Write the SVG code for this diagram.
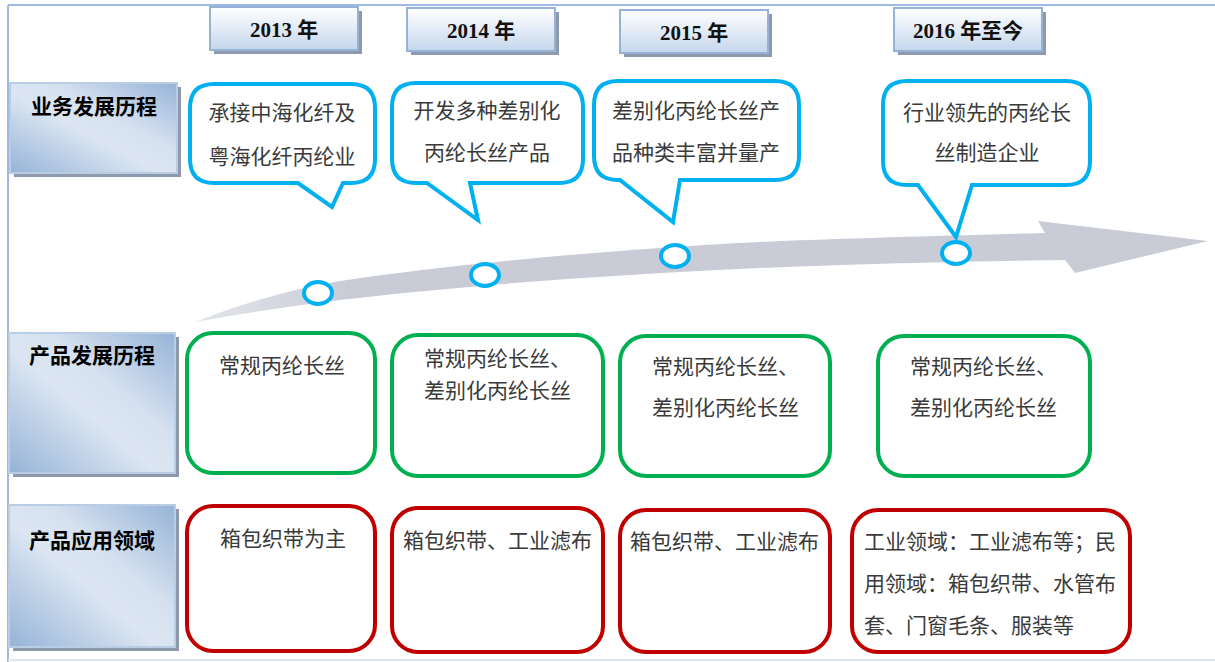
<svg xmlns="http://www.w3.org/2000/svg" width="1215" height="662" viewBox="0 0 1215 662">
<defs>
<linearGradient id="lbl" x1="0" y1="1" x2="1" y2="0">
<stop offset="0" stop-color="#95B3D7"/>
<stop offset="0.45" stop-color="#DCE6F2"/>
<stop offset="0.62" stop-color="#D6E1F0"/>
<stop offset="1" stop-color="#95B3D7"/>
</linearGradient>
<linearGradient id="yr" x1="0" y1="0" x2="0" y2="1">
<stop offset="0" stop-color="#FFFFFF"/>
<stop offset="1" stop-color="#C5D6EC"/>
</linearGradient>
<linearGradient id="arr" x1="195" y1="0" x2="1208" y2="0" gradientUnits="userSpaceOnUse">
<stop offset="0" stop-color="#E4E6EC"/>
<stop offset="0.15" stop-color="#C9CCD7"/>
<stop offset="1" stop-color="#C9CCD7"/>
</linearGradient>
</defs>
<style>
.frame{stroke:#9DB9E4;stroke-width:2;fill:none}
.yrbox{fill:url(#yr);stroke:#95B3D7;stroke-width:2}
.lblbox{fill:url(#lbl);stroke:#B9CDE5;stroke-width:2}
.shadow{fill:#8E9AAB}
.yrtxt{font-family:"Liberation Serif","Noto Sans CJK SC",serif;font-weight:bold;font-size:21px;fill:#111;text-anchor:middle}
.lbltxt{font-family:"Noto Sans CJK SC",sans-serif;font-weight:bold;font-size:21px;fill:#000;text-anchor:middle}
.bub{fill:#fff;stroke:#00B0F0;stroke-width:4;stroke-linejoin:miter}
.green{fill:#fff;stroke:#00B050;stroke-width:4}
.red{fill:#fff;stroke:#C00000;stroke-width:4}
.t{font-family:"Liberation Serif","Noto Sans CJK SC",sans-serif;font-size:21px;fill:#3A3A3A}
.c{text-anchor:middle}
.dot{fill:#fff;stroke:#00B0F0;stroke-width:4}
</style>
<g id="frame">
<line class="frame" x1="8" y1="5" x2="1215" y2="5"/>
<line class="frame" x1="8" y1="5" x2="8" y2="662"/>
<line x1="8" y1="660" x2="1215" y2="660" stroke="#DCE6F2" stroke-width="2"/>
</g>
<g id="connectors">
<path fill="url(#arr)" d="M 195,322 C 250,300 300,288 340,281 C 450,265 600,250 760,242 C 880,237 980,235 1045,233 L 1038,221 L 1208,241 L 1075,273 L 1065,260 C 980,261 880,263 760,268 C 600,275 450,287 340,300 C 290,306 240,314 195,322 Z"/>
</g>
<g id="year-2013">
<rect class="shadow" x="214" y="11" width="148" height="43"/>
<rect class="yrbox" x="210" y="7" width="148" height="43"/>
<text class="yrtxt" x="284" y="37">2013 年</text>
</g>
<g id="year-2014">
<rect class="shadow" x="411" y="12" width="148" height="43"/>
<rect class="yrbox" x="407" y="8" width="148" height="43"/>
<text class="yrtxt" x="481" y="38">2014 年</text>
</g>
<g id="year-2015">
<rect class="shadow" x="624" y="14" width="148" height="43"/>
<rect class="yrbox" x="620" y="10" width="148" height="43"/>
<text class="yrtxt" x="694" y="40">2015 年</text>
</g>
<g id="year-2016">
<rect class="shadow" x="898" y="12" width="148" height="43"/>
<rect class="yrbox" x="894" y="8" width="148" height="43"/>
<text class="yrtxt" x="968" y="38">2016 年至今</text>
</g>
<g id="label-business">
<rect class="shadow" x="14" y="87" width="167" height="90"/>
<rect class="lblbox" x="10" y="83" width="167" height="90"/>
<text class="lbltxt" x="94" y="114">业务发展历程</text>
</g>
<g id="label-product">
<rect class="shadow" x="13" y="337" width="166" height="140"/>
<rect class="lblbox" x="9" y="333" width="166" height="140"/>
<text class="lbltxt" x="92" y="363">产品发展历程</text>
</g>
<g id="label-application">
<rect class="shadow" x="13" y="509" width="166" height="142"/>
<rect class="lblbox" x="9" y="505" width="166" height="142"/>
<text class="lbltxt" x="92" y="548">产品应用领域</text>
</g>
<g id="bubble-2013">
<path class="bub" d="M 214,84 H 351 Q 375,84 375,108 V 159 Q 375,183 351,183 H 343 L 332,207 L 298,183 H 214 Q 190,183 190,159 V 108 Q 190,84 214,84 Z"/>
<text class="t c" x="282" y="120">承接中海化纤及</text>
<text class="t c" x="282" y="164">粤海化纤丙纶业</text>
</g>
<g id="bubble-2014">
<path class="bub" d="M 416,83 H 559 Q 583,83 583,107 V 159 Q 583,183 559,183 H 470 L 478,220 L 427,183 H 416 Q 392,183 392,159 V 107 Q 392,83 416,83 Z"/>
<text class="t c" x="487" y="118">开发多种差别化</text>
<text class="t c" x="487" y="160">丙纶长丝产品</text>
</g>
<g id="bubble-2015">
<path class="bub" d="M 618,81 H 775 Q 799,81 799,105 V 156 Q 799,180 775,180 H 680 L 673,222 L 620,180 H 618 Q 594,180 594,156 V 105 Q 594,81 618,81 Z"/>
<text class="t c" x="696" y="118">差别化丙纶长丝产</text>
<text class="t c" x="696" y="160">品种类丰富并量产</text>
</g>
<g id="bubble-2016">
<path class="bub" d="M 907,81 H 1066 Q 1090,81 1090,105 V 161 Q 1090,185 1066,185 H 972 L 956,237 L 918,185 H 907 Q 883,185 883,161 V 105 Q 883,81 907,81 Z"/>
<text class="t c" x="987" y="120">行业领先的丙纶长</text>
<text class="t c" x="987" y="160">丝制造企业</text>
</g>
<g id="dot-2013"><ellipse class="dot" cx="318" cy="293" rx="14" ry="11"/></g>
<g id="dot-2014"><ellipse class="dot" cx="485" cy="275" rx="14" ry="11"/></g>
<g id="dot-2015"><ellipse class="dot" cx="675" cy="256" rx="14" ry="11"/></g>
<g id="dot-2016"><ellipse class="dot" cx="956" cy="253" rx="14" ry="11"/></g>
<g id="product-2013">
<rect class="green" x="187" y="333" width="188" height="140" rx="26"/>
<text class="t c" x="282" y="373">常规丙纶长丝</text>
</g>
<g id="product-2014">
<rect class="green" x="392" y="335" width="211" height="141" rx="26"/>
<text class="t" x="424" y="366">常规丙纶长丝、</text>
<text class="t" x="424" y="398">差别化丙纶长丝</text>
</g>
<g id="product-2015">
<rect class="green" x="620" y="336" width="210" height="140" rx="26"/>
<text class="t" x="652" y="374">常规丙纶长丝、</text>
<text class="t" x="652" y="415">差别化丙纶长丝</text>
</g>
<g id="product-2016">
<rect class="green" x="878" y="336" width="212" height="140" rx="26"/>
<text class="t" x="910" y="374">常规丙纶长丝、</text>
<text class="t" x="910" y="415">差别化丙纶长丝</text>
</g>
<g id="app-2013">
<rect class="red" x="187" y="506" width="188" height="145" rx="26"/>
<text class="t c" x="283" y="546">箱包织带为主</text>
</g>
<g id="app-2014">
<rect class="red" x="392" y="508" width="211" height="144" rx="26"/>
<text class="t" x="403" y="548">箱包织带、工业滤布</text>
</g>
<g id="app-2015">
<rect class="red" x="620" y="510" width="210" height="142" rx="26"/>
<text class="t" x="630" y="549">箱包织带、工业滤布</text>
</g>
<g id="app-2016">
<rect class="red" x="852" y="510" width="278" height="142" rx="26"/>
<text class="t" x="864" y="549">工业领域：工业滤布等；民</text>
<text class="t" x="864" y="591">用领域：箱包织带、水管布</text>
<text class="t" x="864" y="633">套、门窗毛条、服装等</text>
</g>
</svg>
